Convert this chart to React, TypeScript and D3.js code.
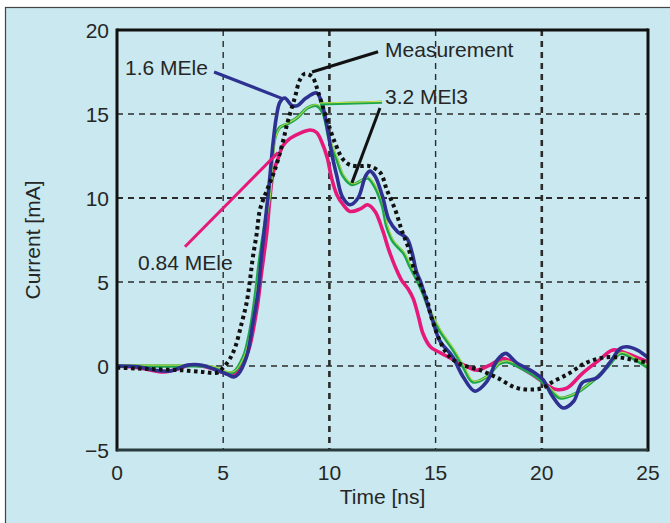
import React from "react";
import * as d3 from "d3";

const W = 670;
const H = 523;

const xTicks = [0, 5, 10, 15, 20, 25];
const yTicks = [-5, 0, 5, 10, 15, 20];
const xLabel = "Time [ns]";
const yLabel = "Current [mA]";

type P = [number, number];

const measurement: P[] = [
  [0, -0.1], [1, -0.15], [2, -0.2], [3, -0.25], [4, -0.35], [4.7, -0.4], [5.0, -0.1],
  [5.3, 0.4], [5.56, 1.1], [5.88, 2.6], [6.1, 3.75], [6.26, 5.1], [6.4, 6.5], [6.58, 7.9],
  [6.73, 9.3], [7.1, 10.6], [7.44, 11.7], [7.8, 13.3], [8.05, 14.6], [8.38, 16], [8.6, 17],
  [8.85, 17.4], [9.2, 17.2], [9.4, 16.6], [9.55, 16], [9.9, 14.6], [10.26, 13.3],
  [10.64, 12.3], [11.0, 11.95], [11.5, 11.9], [11.9, 11.9], [12.4, 11.5], [12.7, 10.5],
  [13.1, 9.3], [13.4, 8.1], [13.7, 7.1], [14.0, 5.7], [14.3, 4.8], [14.6, 3.9], [14.8, 2.9],
  [15.35, 1.1], [15.7, 0.5], [16.2, 0.1], [17.1, -0.25], [17.9, -0.7], [18.8, -1.3],
  [19.6, -1.4], [20.05, -1.3], [20.5, -0.95], [21.2, -0.5], [22.1, 0.2], [22.9, 0.5],
  [23.7, 0.5], [24.3, 0.36], [25, 0.2],
];

const mele16: P[] = [
  [0, 0], [1, -0.05], [1.8, -0.25], [2.5, -0.3], [3.3, 0.05], [4, 0.05], [4.6, -0.2],
  [5.2, -0.5], [5.5, -0.65], [5.7, -0.5], [6.1, 0.55], [6.4, 2.55], [6.65, 4.5], [6.8, 6.5],
  [6.97, 8.5], [7.1, 10], [7.2, 11.3], [7.35, 13.3], [7.5, 14.8], [7.67, 15.7], [7.9, 15.95],
  [8.24, 15.5], [8.5, 15.5], [8.9, 15.95], [9.4, 16.25], [9.65, 15.6], [9.9, 14.2],
  [10.1, 12.7], [10.35, 11.3], [10.6, 10.1], [10.97, 9.6], [11.35, 10], [11.7, 11.3],
  [11.9, 11.6], [12.15, 11.3], [12.5, 10.1], [12.8, 8.7], [13.2, 8], [13.65, 7.6],
  [13.9, 6.7], [14.1, 5.6], [14.3, 5.0], [14.6, 3.75], [14.9, 2.55], [15.2, 1.5],
  [15.8, 0.55], [16.3, -0.65], [16.85, -1.5], [17.4, -0.95], [17.9, 0.35], [18.3, 0.75],
  [18.8, 0.2], [19.6, -0.35], [20.05, -0.8], [20.5, -1.8], [21, -2.5], [21.5, -2.1],
  [21.9, -1.0], [22.6, -0.7], [23.2, 0.2], [23.7, 1.05], [24, 1.15], [24.5, 0.95], [25, 0.5],
];

const mel32: P[] = [
  [0, 0], [1, 0], [2, 0], [3, 0], [4, 0], [4.6, -0.1], [5.2, -0.4], [5.5, -0.35],
  [5.95, 0.55], [6.26, 2.1], [6.5, 4.1], [6.73, 6.5], [6.97, 8.5], [7.2, 10.3], [7.3, 12.1],
  [7.44, 13.6], [7.67, 14.2], [8, 14.4], [8.5, 14.8], [8.95, 15.35], [9.4, 15.5],
  [9.7, 15.05], [10, 13.45], [10.35, 12.3], [10.65, 11.3], [11.05, 10.8], [11.6, 11.1],
  [11.8, 11.2], [12.15, 10.65], [12.5, 9.5], [12.7, 8.3], [13, 7.4], [13.5, 6.7],
  [13.8, 5.9], [14.05, 5.3], [14.35, 4.5], [14.75, 3.2], [15.2, 2.1], [15.8, 1.0],
  [16.3, -0.05], [16.75, -0.95], [17.4, -0.65], [18, 0.15], [18.35, 0.25], [19, -0.1],
  [19.8, -0.7], [20.4, -1.4], [20.85, -1.9], [21.5, -1.7], [22.3, -1.0], [23.1, -0.05],
  [23.7, 0.75], [24.3, 0.45], [25, -0.1],
];

const mele084: P[] = [
  [0, 0], [1, -0.1], [2.2, -0.35], [2.8, -0.2], [3.4, 0.05], [4, 0], [4.6, -0.2],
  [5.3, -0.5], [5.6, -0.45], [5.9, 0.1], [6.2, 0.95], [6.6, 3.5], [6.8, 5.5], [7.05, 7.9],
  [7.2, 10.0], [7.35, 11.5], [7.6, 12.4], [7.8, 13.1], [8.15, 13.55], [8.6, 13.85],
  [9.1, 14.05], [9.4, 13.9], [9.65, 13.3], [9.9, 12.4], [10.1, 11.2], [10.35, 10.2],
  [10.65, 9.6], [10.97, 9.2], [11.45, 9.35], [11.8, 9.6], [12.15, 9.2], [12.5, 8.1],
  [12.8, 6.9], [13.1, 5.9], [13.4, 5.1], [13.7, 4.6], [13.95, 4.0], [14.2, 2.9],
  [14.4, 1.95], [14.75, 1.15], [15.2, 0.8], [15.8, 0.4], [16.5, -0.05], [16.95, -0.25],
  [17.55, 0.05], [18.2, 0.45], [18.8, 0.05], [19.6, -0.55], [20.2, -1.1], [20.7, -1.4],
  [21.2, -1.3], [21.9, -0.45], [22.7, 0.35], [23.35, 0.95], [24, 0.75], [24.6, 0.45],
  [25, 0.25],
];

// annotation leaders (data coordinates)
const leaderMeasurement: P[] = [[9.18, 17.5], [12.29, 18.7]];
const leaderBlue: P[] = [[4.57, 17.5], [7.82, 15.9]];
const leader32Black: P[] = [[11.06, 10.9], [12.38, 15.36]];
const leader32Green: P[] = [[9.56, 15.6], [12.48, 15.7]];
const leaderPink: P[] = [[3.2, 7.1], [7.58, 12.7]];

const labels = [
  { text: "Measurement", x: 12.62, y: 18.4 },
  { text: "1.6 MEle", x: 0.38, y: 17.3 },
  { text: "3.2 MEl3", x: 12.62, y: 15.6 },
  { text: "0.84 MEle", x: 0.99, y: 5.7 },
];

const BG = "#c9e8ef";
const BLUE = "#2e3192";
const PINK = "#e6197b";
const GREEN = "#1ca64c";
const YEL = "#c8e04a";
const FONT = "'Liberation Sans', Arial, Helvetica, sans-serif";
const FS = 21;

export default function App() {
  const left = 117, right = 648, top = 30, bottom = 450;
  const x = d3.scaleLinear().domain([0, 25]).range([left, right]);
  const y = d3.scaleLinear().domain([-5, 20]).range([bottom, top]);
  const line = d3
    .line<P>()
    .x((d) => x(d[0]))
    .y((d) => y(d[1]))
    .curve(d3.curveCatmullRom.alpha(0.5));
  const straight = d3
    .line<P>()
    .x((d) => x(d[0]))
    .y((d) => y(d[1]));

  return (
    <svg
      width={W}
      height={H}
      style={{ position: "fixed", left: 0, top: 0, display: "block" }}
      fontFamily={FONT}
    >
      <rect x={0} y={0} width={W} height={H} fill="#fff" />
      <rect x={5.5} y={7.5} width={W + 20} height={H + 20} fill={BG} stroke="#444" strokeWidth={1.2} />

      {/* grid */}
      {xTicks.filter((t) => t > 0 && t < 25).map((t) => (
        <line
          key={"gx" + t}
          x1={x(t)}
          x2={x(t)}
          y1={top}
          y2={bottom}
          stroke="#2b2b2b"
          strokeWidth={t % 10 === 0 ? 2.6 : 1.4}
          strokeDasharray="6 5"
        />
      ))}
      {yTicks.filter((t) => t > -5 && t < 20).map((t) => (
        <line
          key={"gy" + t}
          x1={left}
          x2={right}
          y1={y(t)}
          y2={y(t)}
          stroke="#2b2b2b"
          strokeWidth={t === 10 ? 2.2 : 1.6}
          strokeDasharray="6 5"
        />
      ))}

      {/* curves */}
      <path d={line(mele084) || ""} fill="none" stroke={PINK} strokeWidth={3.6} strokeLinejoin="round" />
      <path d={line(mel32) || ""} fill="none" stroke={GREEN} strokeWidth={3.3} strokeLinejoin="round" />
      <path d={line(mel32) || ""} fill="none" stroke={YEL} strokeWidth={1.1} opacity={0.85} transform="translate(0.9,-0.9)" />
      <path d={line(mele16) || ""} fill="none" stroke={BLUE} strokeWidth={3.6} strokeLinejoin="round" />
      <path d={line(measurement) || ""} fill="none" stroke="#111" strokeWidth={4} strokeDasharray="3.5 3.5" />

      {/* leaders */}
      <path d={straight(leaderPink) || ""} stroke={PINK} strokeWidth={3} fill="none" />
      <path d={straight(leaderBlue) || ""} stroke={BLUE} strokeWidth={3.2} fill="none" />
      <path d={straight(leader32Green) || ""} stroke={GREEN} strokeWidth={3} fill="none" />
      <path d={straight(leader32Green) || ""} stroke={YEL} strokeWidth={1.1} fill="none" transform="translate(0,-0.9)" />
      <path d={straight(leaderMeasurement) || ""} stroke="#111" strokeWidth={3.2} fill="none" />
      <path d={straight(leader32Black) || ""} stroke="#111" strokeWidth={3} fill="none" />

      {labels.map((l) => (
        <text key={l.text} x={x(l.x)} y={y(l.y)} fontSize={FS} fill="#262626">
          {l.text}
        </text>
      ))}

      {/* frame */}
      <line x1={left} x2={right} y1={top} y2={top} stroke="#111" strokeWidth={3} />
      <line x1={left} x2={left} y1={top - 1.5} y2={bottom + 1.5} stroke="#111" strokeWidth={3} />
      <line x1={right} x2={right} y1={top - 1.5} y2={bottom + 1.5} stroke="#111" strokeWidth={3} />
      <line x1={left} x2={right} y1={bottom} y2={bottom} stroke="#2a3b3d" strokeWidth={3} />

      {/* tick labels */}
      {yTicks.map((t) => (
        <text key={"ty" + t} x={left - 8} y={y(t) + 7.5} fontSize={FS} textAnchor="end" fill="#262626">
          {t < 0 ? "\u2212" + Math.abs(t) : t}
        </text>
      ))}
      {xTicks.map((t) => (
        <text key={"tx" + t} x={x(t)} y={480} fontSize={FS} textAnchor="middle" fill="#262626">
          {t}
        </text>
      ))}
      <text x={(left + right) / 2} y={504} fontSize={FS} textAnchor="middle" fill="#262626">
        {xLabel}
      </text>
      <text
        transform={`translate(40,${(top + bottom) / 2}) rotate(-90)`}
        fontSize={FS}
        textAnchor="middle"
        fill="#262626"
      >
        {yLabel}
      </text>
    </svg>
  );
}
